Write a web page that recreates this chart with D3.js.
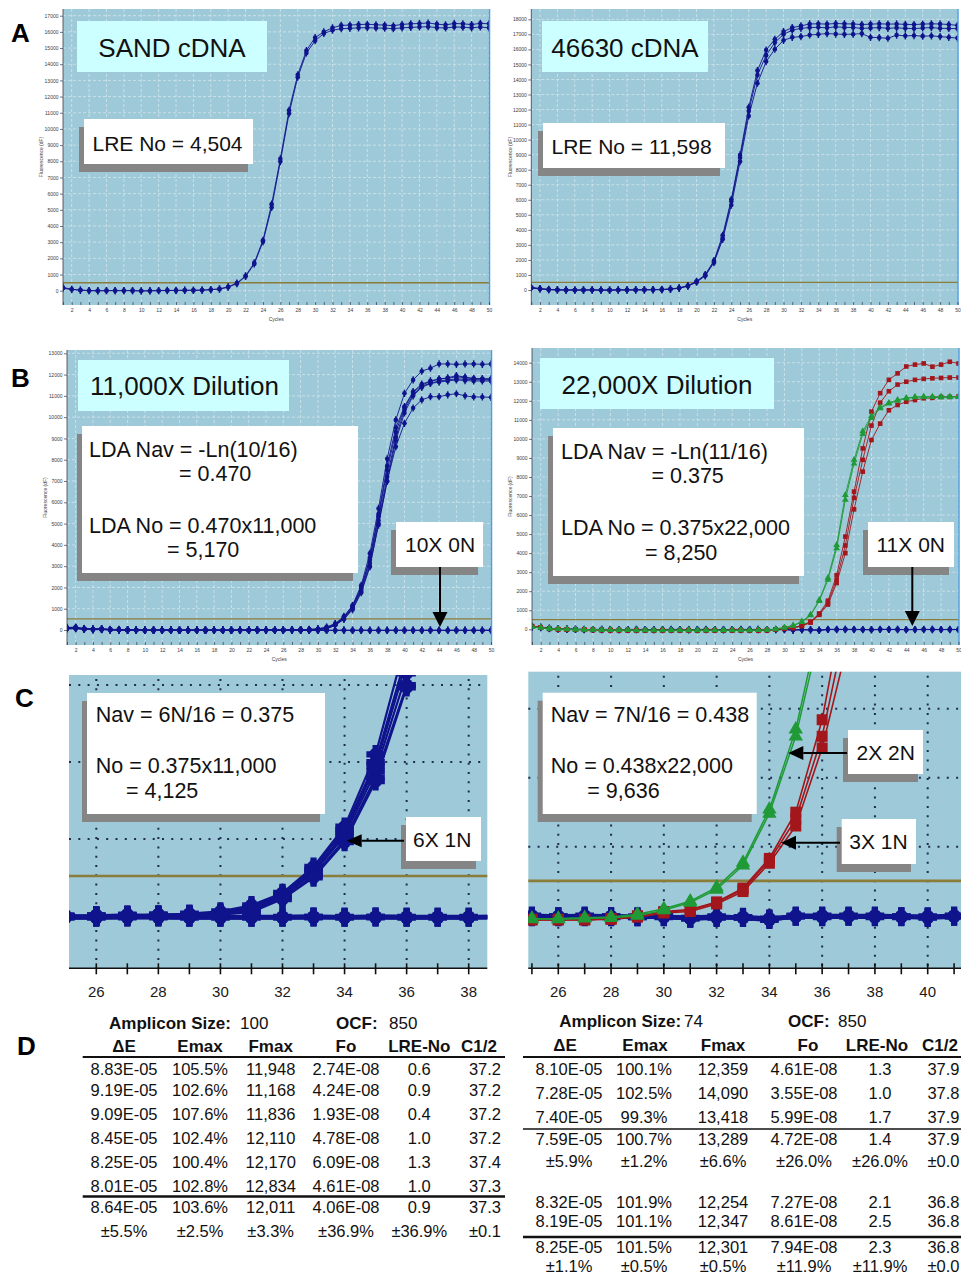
<!DOCTYPE html>
<html>
<head>
<meta charset="utf-8">
<title>qPCR amplification profiles with LRE and LDA quantification</title>
<script src="https://cdn.jsdelivr.net/npm/d3@7"></script>
<style>
  html, body { margin: 0; padding: 0; background: #ffffff; }
  svg { display: block; }
</style>
</head>
<body>
<svg id="figure" width="961" height="1280"></svg>
<script>
// ---------------- data ----------------
const cycles = [1,2,3,4,5,6,7,8,9,10,11,12,13,14,15,16,17,18,19,20,21,22,23,24,25,
  26,27,28,29,30,31,32,33,34,35,36,37,38,39,40,41,42,43,44,45,46,47,48,49,50];

// Fluorescence axis tick values
const ticksSand = [0,1000,2000,3000,4000,5000,6000,7000,8000,9000,10000,11000,12000,13000,14000,15000,16000,17000];
const ticks46630 = [0,1000,2000,3000,4000,5000,6000,7000,8000,9000,10000,11000,12000,13000,14000,15000,16000,17000,18000];
const ticksDil11k = [0,1000,2000,3000,4000,5000,6000,7000,8000,9000,10000,11000,12000,13000];
const ticksDil22k = [0,1000,2000,3000,4000,5000,6000,7000,8000,9000,10000,11000,12000,13000,14000];
const zoomTicksLeft = [26,27,28,29,30,31,32,33,34,35,36,37,38];
const zoomLabelsLeft = [26,28,30,32,34,36,38];
const zoomTicksRight = [25,26,27,28,29,30,31,32,33,34,35,36,37,38,39,40,41];
const zoomLabelsRight = [26,28,30,32,34,36,38,40];
const zoomGridValues = [1000,2000,3000];

// fluorescence thresholds
const thrSand = 490, thr46630 = 510, thrDil11k = 520, thrDil22k = 505;

// SAND cDNA replicates
const sandRep1 = [200,90,40,10,0,0,10,0,10,-20, 0,10,20,10,30,20,40,60,110,240,
  470,920,1720,3120,5350,8150,11150,13350,14850,15650, 16000,16250,16400,16420,16450,16470,16440,16420,16380,16460,
  16500,16520,16550,16480,16430,16520,16500,16450,16530,16500];
const sandRep2 = [150,70,30,0,-10,10,0,10,0,-10, -10,0,10,20,20,30,30,70,100,220,
  430,880,1650,3020,5150,7980,10950,13200,14700,15450, 15900,16100,16200,16220,16250,16260,16240,16230,16200,16250,
  16280,16300,16320,16260,16240,16300,16290,16250,16300,16250];

// 46630 cDNA replicates
const g46630Rep1 = [180,100,40,20,10,0,10,0,0,-10, 0,10,10,20,30,40,70,140,290,580,
  1020,1950,3640,6030,8980,12150,14590,15960,16670,17180, 17450,17560,17690,17700,17680,17720,17700,17690,17650,17680,
  17700,17680,17690,17660,17650,17680,17700,17690,17650,17600];
const g46630Rep2 = [150,80,30,10,0,-10,0,10,-10,0, 10,0,20,10,20,30,60,130,270,550,
  980,1880,3450,5900,8800,11900,14300,15600,16450,17000, 17280,17400,17450,17470,17430,17500,17460,17450,17400,17420,
  17450,17400,17430,17400,17380,17420,17450,17400,17390,17380];
const g46630Rep3 = [120,70,20,0,-10,0,-10,0,0,-10, 0,10,0,10,20,20,50,120,250,520,
  940,1820,3370,5650,8540,11570,13750,15190,16010,16600, 16800,16850,16960,17000,17050,17020,17000,17010,17050,16800,
  16780,16740,16950,16900,16920,16880,16900,16850,16800,16750];

// 11,000X dilution: six positive wells (6X 1N)
const dil11kPos1 = [100,110,60,40,50,20,30,10,0,-10, 0,-10,0,-10,-20,-10,0,-10,-20,-10,
  0,-10,0,10,0,10,20,10,30,60, 140,300,640,1160,2100,3600,5710,8040,9870,11120,
  11750,12160,12300,12500,12500,12480,12500,12500,12480,12500];
const dil11kPos2 = [80,90,50,30,40,10,20,0,-10,-10, -10,0,-10,-20,-10,0,-10,-20,-10,0,
  -10,0,10,0,-10,0,10,20,20,40, 120,290,610,1120,2000,3400,5450,7700,9500,10500,
  11200,11550,11700,11800,11820,11900,11850,11800,11800,11800];
const dil11kPos3 = [90,100,40,30,30,20,10,0,0,-10, 0,-10,-10,-10,0,-10,-10,0,-20,-10,
  0,0,-10,10,0,0,10,10,20,30, 100,270,580,1080,1950,3300,5350,7500,9300,10450,
  11150,11500,11680,11780,11850,11950,11880,11820,11800,11780];
const dil11kPos4 = [70,80,40,20,30,10,10,-10,0,-20, -10,-10,0,-10,-10,0,-20,-10,-10,0,
  -10,10,0,0,10,0,0,20,10,30, 80,250,560,1040,1880,3150,5150,7200,9050,10350,
  11050,11450,11600,11700,11750,11800,11780,11760,11750,11750];
const dil11kPos5 = [60,70,30,20,20,0,10,0,-10,-10, -20,-10,-10,0,-10,-20,-10,-10,0,-10,
  0,-10,0,0,0,10,10,0,20,20, 60,230,520,990,1800,3000,4930,6980,8900,10200,
  11000,11400,11580,11650,11700,11750,11720,11700,11700,11700];
const dil11kPos6 = [50,60,30,10,20,0,0,-10,-10,-20, -10,-20,-10,-10,-20,-10,0,-10,-10,-10,
  -10,0,-10,0,0,0,0,10,0,20, 50,220,500,960,1750,2970,5000,7000,8610,9710,
  10430,10810,10960,10960,11050,11100,11000,10950,10950,10930];
// 11,000X dilution: negative wells (10X 0N)
const dil11kNeg1 = [120,130,70,50,60,30,20,10,0,-10, -10,-20,-10,-20,-20,-10,-20,-10,-20,-20,
  -10,-20,-10,-20,-20,-10,-20,-10,-10,-20, -10,-20,-20,-10,-20,-20,-10,-20,-10,-20,
  -20,-10,-20,-20,-10,-20,-20,-10,-20,-20];
const dil11kNeg2 = [100,120,60,40,50,20,10,0,-10,-20, -20,-10,-20,-20,-10,-20,-20,-10,-20,-10,
  -20,-10,-20,-10,-10,-20,-10,-20,-20,-10, -20,-10,-10,-20,-10,-20,-20,-10,-20,-10,
  -10,-20,-10,-10,-20,-10,-10,-20,-10,-10];
const dil11kNeg3 = [90,110,50,30,40,20,10,0,0,-10, -10,-10,-20,-10,-20,-20,-10,-20,-10,-20,
  -20,-20,-10,-20,-20,-20,-10,-10,-20,-20, -20,-20,-10,-20,-10,-10,-20,-20,-10,-20,
  -20,-20,-10,-20,-20,-10,-20,-20,-20,-10];

// 22,000X dilution: 2N wells (green)
const dil22kTwoN1 = [140,90,40,20,10,0,-10,-20,-30,-30, -40,-30,-40,-50,-40,-50,-40,-50,-40,-50,
  -40,-50,-50,-40,-50,-40,-30,-20,20,100, 210,410,770,1540,2700,4430,7050,8900,10400,11200,
  11650,11900,12050,12150,12200,12220,12200,12210,12220,12200];
const dil22kTwoN2 = [120,80,30,10,0,-10,-20,-20,-30,-40, -30,-40,-50,-40,-50,-40,-50,-40,-50,-40,
  -50,-40,-40,-50,-40,-50,-40,-30,0,80, 190,380,730,1480,2600,4250,6800,8700,10250,11100,
  11600,11850,12000,12120,12180,12200,12210,12190,12200,12210];
// 22,000X dilution: 1N wells (red)
const dil22kOneN1 = [170,100,40,10,0,-10,-20,-30,-40,-40, -50,-40,-50,-60,-50,-60,-50,-60,-50,-60,
  -50,-60,-60,-50,-60,-60,-50,-50,0,60, 90,200,400,830,1500,2840,4870,7230,9500,11430,
  12400,13100,13440,13800,13900,13960,13790,13900,14050,13960];
const dil22kOneN2 = [150,90,30,0,-10,-20,-20,-30,-40,-50, -40,-50,-60,-50,-60,-50,-60,-50,-60,-50,
  -60,-50,-50,-60,-50,-60,-60,-40,-10,50, 80,190,380,800,1400,2600,4400,6900,8900,10700,
  11900,12500,12850,13000,13100,13150,13180,13200,13220,13220];
const dil22kOneN3 = [130,80,20,0,-20,-20,-30,-40,-40,-50, -50,-60,-50,-60,-60,-50,-60,-60,-50,-60,
  -50,-60,-60,-50,-60,-50,-60,-50,-20,40, 60,170,350,760,1300,2430,4000,6300,8280,9940,
  10800,11500,11780,11950,12040,12130,12150,12200,12200,12220];
// 22,000X dilution: negative wells (11X 0N, blue)
const dil22kNeg1 = [160,120,60,30,20,10,0,-10,0,-10, -20,-10,0,-10,-20,-10,0,-10,-20,-10,
  0,-10,-20,-10,0,-10,0,-10,-20,-10, -40,-20,-30,-60,0,0,-10,-20,-10,-20,
  0,-10,-20,-10,-20,0,-10,-20,0,-10];
const dil22kNeg2 = [130,100,50,20,10,0,-10,-10,-20,-10, -10,-20,-10,-20,-10,-20,-10,-20,-10,-20,
  -10,-20,-10,-20,-10,-20,-10,-20,-10,-20, -30,-10,-30,-50,-10,-10,0,-10,-20,-10,
  -10,0,-10,-20,-10,-10,-20,-10,-10,-20];
const dil22kNeg3 = [110,90,40,10,0,-10,-20,-10,-10,-20, -20,-10,-20,-10,-20,-10,-20,-10,-20,-10,
  -20,-10,-20,-10,-20,-10,-20,-10,-20,-10, -40,-30,-20,-40,-10,-20,-10,0,-10,-30,
  -10,-10,0,-20,-10,-20,0,-10,-20,-10];

// Table D
const tableColumns = ['ΔE', 'Emax', 'Fmax', 'Fo', 'LRE-No', 'C1/2'];
const sandRows = [
  ['8.83E-05','105.5%','11,948','2.74E-08','0.6','37.2'],
  ['9.19E-05','102.6%','11,168','4.24E-08','0.9','37.2'],
  ['9.09E-05','107.6%','11,836','1.93E-08','0.4','37.2'],
  ['8.45E-05','102.4%','12,110','4.78E-08','1.0','37.2'],
  ['8.25E-05','100.4%','12,170','6.09E-08','1.3','37.4'],
  ['8.01E-05','102.8%','12,834','4.61E-08','1.0','37.3']];
const sandMean = ['8.64E-05','103.6%','12,011','4.06E-08','0.9','37.3'];
const sandCV = ['±5.5%','±2.5%','±3.3%','±36.9%','±36.9%','±0.1'];
const oneNRows = [
  ['8.10E-05','100.1%','12,359','4.61E-08','1.3','37.9'],
  ['7.28E-05','102.5%','14,090','3.55E-08','1.0','37.8'],
  ['7.40E-05','99.3%','13,418','5.99E-08','1.7','37.9']];
const oneNMean = ['7.59E-05','100.7%','13,289','4.72E-08','1.4','37.9'];
const oneNCV = ['±5.9%','±1.2%','±6.6%','±26.0%','±26.0%','±0.0'];
const twoNRows = [
  ['8.32E-05','101.9%','12,254','7.27E-08','2.1','36.8'],
  ['8.19E-05','101.1%','12,347','8.61E-08','2.5','36.8']];
const twoNMean = ['8.25E-05','101.5%','12,301','7.94E-08','2.3','36.8'];
const twoNCV = ['±1.1%','±0.5%','±0.5%','±11.9%','±11.9%','±0.0'];

// ---------------- drawing ----------------
const FONT = '"Liberation Sans", Arial, Helvetica, sans-serif';
const BG = '#9dc9d8';
const NAVY = '#10148c';
const RED = '#a3161c';
const GREEN = '#1f9a36';
const OLIVE = '#8a7d3a';
const GRID = '#d4e6ec';
const DOT = '#1e2d4e';

const svg = d3.select('#figure').attr('font-family', FONT);
let clipCount = 0;

function clipRect(x0, y0, x1, y1) {
  const id = 'plotclip' + (clipCount++);
  svg.append('clipPath').attr('id', id).append('rect')
    .attr('x', x0).attr('y', y0).attr('width', x1 - x0).attr('height', y1 - y0);
  return `url(#${id})`;
}

function drawMarkers(g, values, x, y, shape, color, big) {
  const pts = values.map((v, i) => [x(cycles[i]), y(v)]);
  if (shape === 'circle') {
    if (big) {
      const cross = d3.symbol(d3.symbolCross, 190)();
      g.append('g').selectAll('path').data(pts).join('path')
        .attr('d', cross).attr('transform', d => `translate(${d[0]},${d[1]})`).attr('fill', color);
      g.append('g').selectAll('circle').data(pts).join('circle')
        .attr('cx', d => d[0]).attr('cy', d => d[1]).attr('r', 6.5).attr('fill', color);
    } else {
      g.append('g').selectAll('line').data(pts).join('line')
        .attr('x1', d => d[0]).attr('x2', d => d[0]).attr('y1', d => d[1] - 3.6).attr('y2', d => d[1] + 3.6)
        .attr('stroke', color).attr('stroke-width', 1.4);
      g.append('g').selectAll('circle').data(pts).join('circle')
        .attr('cx', d => d[0]).attr('cy', d => d[1]).attr('r', 2.3).attr('fill', color);
    }
  } else if (shape === 'square') {
    const s = big ? 11 : 4.6;
    g.append('g').selectAll('rect').data(pts).join('rect')
      .attr('x', d => d[0] - s / 2).attr('y', d => d[1] - s / 2).attr('width', s).attr('height', s)
      .attr('fill', color);
  } else {
    const tri = d3.symbol(d3.symbolTriangle, big ? 90 : 20)();
    g.append('g').selectAll('path').data(pts).join('path')
      .attr('d', tri).attr('transform', d => `translate(${d[0]},${d[1]})`).attr('fill', color);
  }
}

// Full 50-cycle amplification plot
function ampPanel(o) {
  const g = svg.append('g');
  const x = d3.scaleLinear().domain([1, 50]).range([o.left, o.x50]);
  const yMax = o.yTicks[o.yTicks.length - 1];
  const y = d3.scaleLinear().domain([0, yMax]).range([o.yZero, o.yTopTick]);
  const evens = cycles.filter(c => c % 2 === 0);

  g.append('rect').attr('x', o.left).attr('y', o.top)
    .attr('width', o.right - o.left).attr('height', o.bottom - o.top).attr('fill', BG);

  g.append('g').selectAll('line').data(o.yTicks).join('line')
    .attr('x1', o.left).attr('x2', o.right).attr('y1', d => y(d)).attr('y2', d => y(d))
    .attr('stroke', GRID).attr('stroke-width', 0.8).attr('stroke-dasharray', '3,2');
  g.append('g').selectAll('line').data(evens).join('line')
    .attr('x1', d => x(d)).attr('x2', d => x(d)).attr('y1', o.top).attr('y2', o.bottom)
    .attr('stroke', GRID).attr('stroke-width', 0.8).attr('stroke-dasharray', '3,2');

  g.append('line').attr('x1', o.left).attr('x2', o.right)
    .attr('y1', y(o.thr)).attr('y2', y(o.thr)).attr('stroke', OLIVE).attr('stroke-width', 1.3);

  const plot = g.append('g').attr('clip-path', clipRect(o.left, o.top, o.right, o.bottom));
  const line = d3.line().x((d, i) => x(cycles[i])).y(d => y(d));
  o.series.forEach(s => {
    s.reps.forEach(rep => {
      plot.append('path').datum(rep).attr('d', line).attr('fill', 'none')
        .attr('stroke', s.color).attr('stroke-width', 0.9);
    });
    s.reps.forEach(rep => drawMarkers(plot, rep, x, y, s.shape, s.color, false));
  });

  // right border
  g.append('line').attr('x1', o.right).attr('x2', o.right).attr('y1', o.top).attr('y2', o.bottom)
    .attr('stroke', '#4f9fe0').attr('stroke-width', 1.5);

  // fluorescence axis
  const ay = g.append('g').attr('transform', `translate(${o.left},0)`)
    .call(d3.axisLeft(y).tickValues(o.yTicks).tickSize(3).tickPadding(1.5).tickFormat(d3.format('d')));
  ay.select('.domain').remove();
  ay.selectAll('line').attr('stroke', '#3a3a4a').attr('stroke-width', 0.7);
  ay.selectAll('text').attr('font-size', 5).attr('fill', '#3a3a3a').attr('font-family', FONT);
  g.append('line').attr('x1', o.left).attr('x2', o.left).attr('y1', o.top).attr('y2', o.bottom)
    .attr('stroke', '#3a3a4a').attr('stroke-width', 0.8);

  // cycle axis
  const ax = g.append('g').attr('transform', `translate(0,${o.bottom})`)
    .call(d3.axisBottom(x).tickValues(cycles).tickSize(-3).tickPadding(3)
      .tickFormat(d => d % 2 === 0 ? d : ''));
  ax.select('.domain').remove();
  ax.selectAll('line').attr('stroke', '#3a3a4a').attr('stroke-width', 0.7);
  ax.selectAll('text').attr('font-size', 5).attr('fill', '#3a3a3a').attr('font-family', FONT);

  g.append('text').attr('x', (o.left + o.right) / 2).attr('y', o.bottom + 16)
    .attr('text-anchor', 'middle').attr('font-size', 5).attr('fill', '#3a3a3a').text('Cycles');
  g.append('text').attr('transform', `translate(${o.yLabelX},${(o.top + o.bottom) / 2}) rotate(-90)`)
    .attr('text-anchor', 'middle').attr('font-size', 5).attr('fill', '#3a3a3a').text('Fluorescence (dF)');
}

// Close-up of the threshold region
function zoomPanel(o) {
  const g = svg.append('g');
  const x = d3.scaleLinear().domain([o.xa, o.xb]).range([o.pxa, o.pxb]);
  const y = d3.scaleLinear().domain([0, 3000]).range([o.yZero, o.y3000]);

  g.append('rect').attr('x', o.left).attr('y', o.top)
    .attr('width', o.right - o.left).attr('height', o.axisY - o.top).attr('fill', BG);

  g.append('g').selectAll('line').data(zoomGridValues).join('line')
    .attr('x1', o.left).attr('x2', o.right).attr('y1', d => y(d)).attr('y2', d => y(d))
    .attr('stroke', DOT).attr('stroke-width', 2).attr('stroke-dasharray', '2,7.3');
  g.append('g').selectAll('line').data(o.labels).join('line')
    .attr('x1', d => x(d)).attr('x2', d => x(d)).attr('y1', o.top + 4).attr('y2', o.axisY)
    .attr('stroke', DOT).attr('stroke-width', 2).attr('stroke-dasharray', '2,7.3');

  g.append('line').attr('x1', o.left).attr('x2', o.right)
    .attr('y1', y(o.thr)).attr('y2', y(o.thr)).attr('stroke', OLIVE).attr('stroke-width', 2.6);

  const plot = g.append('g').attr('clip-path', clipRect(o.left, o.top, o.right, o.axisY - 1));
  const line = d3.line().x((d, i) => x(cycles[i])).y(d => y(d));
  o.series.forEach(s => {
    s.reps.forEach(rep => {
      plot.append('path').datum(rep).attr('d', line).attr('fill', 'none')
        .attr('stroke', s.color).attr('stroke-width', s.width);
    });
    s.reps.forEach(rep => drawMarkers(plot, rep, x, y, s.shape, s.color, true));
  });

  // cycle axis with crossing ticks
  g.append('line').attr('x1', o.left).attr('x2', o.right).attr('y1', o.axisY).attr('y2', o.axisY)
    .attr('stroke', '#111').attr('stroke-width', 1.6);
  g.append('g').selectAll('line').data(o.ticks).join('line')
    .attr('x1', d => x(d)).attr('x2', d => x(d)).attr('y1', o.axisY - 5).attr('y2', o.axisY + 6)
    .attr('stroke', '#111').attr('stroke-width', 1.6);
  g.append('g').selectAll('text').data(o.labels).join('text')
    .attr('x', d => x(d)).attr('y', o.axisY + 29).attr('text-anchor', 'middle')
    .attr('font-size', 15).attr('fill', '#1a1a1a').text(d => d);
}

function callout(box, fill, shadow, lines, size) {
  if (shadow) {
    svg.append('rect').attr('x', box[0] - 5).attr('y', box[1] + 8)
      .attr('width', box[2] - box[0]).attr('height', box[3] - box[1]).attr('fill', '#858585');
  }
  svg.append('rect').attr('x', box[0]).attr('y', box[1])
    .attr('width', box[2] - box[0]).attr('height', box[3] - box[1]).attr('fill', fill);
  lines.forEach(l => {
    svg.append('text').attr('x', l[1]).attr('y', l[2]).attr('font-size', size)
      .attr('text-anchor', l[3] || 'start').attr('fill', '#111').text(l[0]);
  });
}

function arrow(x1, y1, x2, y2, len, half) {
  const a = Math.atan2(y2 - y1, x2 - x1);
  const bx = x2 - len * Math.cos(a), by = y2 - len * Math.sin(a);
  svg.append('line').attr('x1', x1).attr('y1', y1).attr('x2', bx).attr('y2', by)
    .attr('stroke', '#000').attr('stroke-width', 2);
  const px = -Math.sin(a) * half, py = Math.cos(a) * half;
  svg.append('path').attr('d', `M${x2},${y2}L${bx + px},${by + py}L${bx - px},${by - py}Z`).attr('fill', '#000');
}

// ---- A: SAND and 46630 cDNA ----
ampPanel({ left: 63, x50: 489, right: 489.5, top: 9, bottom: 305, yZero: 290.7, yTopTick: 15.7,
  yTicks: ticksSand, thr: thrSand, yLabelX: 43,
  series: [{ reps: [sandRep1, sandRep2], color: NAVY, shape: 'circle' }] });
ampPanel({ left: 531.3, x50: 957.5, right: 958, top: 9, bottom: 305, yZero: 290, yTopTick: 19.3,
  yTicks: ticks46630, thr: thr46630, yLabelX: 511.7,
  series: [{ reps: [g46630Rep1, g46630Rep2, g46630Rep3], color: NAVY, shape: 'circle' }] });

// ---- B: limiting dilutions ----
const dil11kSeries = [
  { reps: [dil11kNeg1, dil11kNeg2, dil11kNeg3], color: NAVY, shape: 'circle', width: 4.5 },
  { reps: [dil11kPos1, dil11kPos2, dil11kPos3, dil11kPos4, dil11kPos5, dil11kPos6], color: NAVY, shape: 'circle', width: 2.2 }];
const dil22kSeries = [
  { reps: [dil22kNeg1, dil22kNeg2, dil22kNeg3], color: NAVY, shape: 'circle', width: 4.5 },
  { reps: [dil22kOneN1, dil22kOneN2, dil22kOneN3], color: RED, shape: 'square', width: 1.6 },
  { reps: [dil22kTwoN1, dil22kTwoN2], color: GREEN, shape: 'triangle', width: 1.5 }];

ampPanel({ left: 67, x50: 491, right: 491.5, top: 350, bottom: 645, yZero: 630, yTopTick: 353.3,
  yTicks: ticksDil11k, thr: thrDil11k, yLabelX: 46.7, series: dil11kSeries });
ampPanel({ left: 532, x50: 958.5, right: 959, top: 348, bottom: 645, yZero: 629.3, yTopTick: 362.7,
  yTicks: ticksDil22k, thr: thrDil22k, yLabelX: 512, series: dil22kSeries });

// ---- C: close-ups around the threshold ----
zoomPanel({ left: 69, right: 487.3, top: 675, axisY: 968.3, xa: 26, xb: 38, pxa: 96.3, pxb: 468.7,
  yZero: 916, y3000: 685, thr: thrDil11k, ticks: zoomTicksLeft, labels: zoomLabelsLeft, series: dil11kSeries });
zoomPanel({ left: 528.3, right: 961, top: 671.7, axisY: 968.3, xa: 26, xb: 40, pxa: 558.3, pxb: 927.7,
  yZero: 915.7, y3000: 708.7, thr: thrDil22k, ticks: zoomTicksRight, labels: zoomLabelsRight, series: dil22kSeries });

// ---- annotations ----
const CYAN = '#ccffff';
callout([77, 21, 267, 72], CYAN, false, [['SAND cDNA', 172, 57, 'middle']], 26);
callout([84, 119, 253, 164], '#fff', true, [['LRE No = 4,504', 92.5, 150.5]], 21);
callout([542, 21, 708, 72], CYAN, false, [['46630 cDNA', 625, 57.3, 'middle']], 26);
callout([543, 123, 725, 168], '#fff', true, [['LRE No = 11,598', 551.5, 153.5]], 21);

callout([78, 360, 289, 411], CYAN, false, [['11,000X Dilution', 184.5, 395, 'middle']], 26);
callout([82, 426, 358, 573], '#fff', true, [
  ['LDA Nav = -Ln(10/16)', 89, 457], ['= 0.470', 179, 481],
  ['LDA No = 0.470x11,000', 89, 533], ['= 5,170', 167, 557]], 21.5);
callout([396, 522, 483, 567], '#fff', true, [['10X 0N', 405, 552]], 21);
arrow(440, 567, 440, 627, 15, 7.5);

callout([540, 358, 774, 409], CYAN, false, [['22,000X Dilution', 657, 393.5, 'middle']], 26);
callout([553, 428, 804, 576], '#fff', true, [
  ['LDA Nav = -Ln(11/16)', 561, 458.5], ['= 0.375', 651.5, 483],
  ['LDA No = 0.375x22,000', 561, 535], ['= 8,250', 645, 560]], 21.5);
callout([868, 522, 954, 567], '#fff', true, [['11X 0N', 876.5, 552]], 21);
arrow(912.3, 567, 912.3, 626, 15, 7.5);

callout([87, 693, 325, 814], '#fff', true, [
  ['Nav = 6N/16 = 0.375', 95.7, 722], ['No = 0.375x11,000', 95.7, 773], ['= 4,125', 126, 798]], 21.5);
callout([406, 817, 481, 861], '#fff', true, [['6X 1N', 413, 847]], 21);
arrow(404, 840.7, 346.7, 840.7, 15, 6.5);

callout([542.7, 692.7, 756.7, 814], '#fff', true, [
  ['Nav = 7N/16 = 0.438', 550.7, 722], ['No = 0.438x22,000', 550.7, 772.7], ['= 9,636', 587.3, 798]], 21.5);
callout([848, 730, 923, 774], '#fff', true, [['2X 2N', 856.5, 760]], 21);
arrow(847, 753, 788.3, 753, 15, 7);
callout([841.7, 819, 916, 864], '#fff', true, [['3X 1N', 849.3, 849]], 21);
arrow(840, 842.7, 781, 842.7, 15, 7);

// ---- panel letters ----
[['A', 11, 42], ['B', 11, 387], ['C', 15, 707], ['D', 17, 1055]].forEach(p => {
  svg.append('text').attr('x', p[1]).attr('y', p[2]).attr('font-size', 26)
    .attr('font-weight', 'bold').attr('fill', '#000').text(p[0]);
});

// ---- D: kinetic parameter tables ----
function table(o) {
  const g = svg.append('g').attr('fill', '#111');
  const head = g.append('text').attr('y', o.titleY).attr('font-size', 17);
  head.append('tspan').attr('x', o.ampX).attr('font-weight', 'bold').text('Amplicon Size:');
  head.append('tspan').attr('x', o.ampValX).text(o.amp);
  head.append('tspan').attr('x', o.ocfX).attr('font-weight', 'bold').text('OCF:');
  head.append('tspan').attr('x', o.ocfValX).text(o.ocf);

  tableColumns.forEach((c, i) => {
    const last = i === tableColumns.length - 1;
    g.append('text').attr('x', last ? o.lastHeadX : o.headCx[i]).attr('y', o.headY)
      .attr('text-anchor', last ? 'end' : 'middle').attr('font-size', 17)
      .attr('font-weight', 'bold').text(c);
  });
  o.rows.forEach((r, k) => {
    r.forEach((v, i) => {
      const last = i === r.length - 1;
      g.append('text').attr('x', last ? o.lastX : o.cx[i]).attr('y', o.rowY[k])
        .attr('text-anchor', last ? 'end' : 'middle').attr('font-size', 16.5).text(v);
    });
  });
  o.rules.forEach(r => {
    g.append('line').attr('x1', o.ruleX[0]).attr('x2', o.ruleX[1]).attr('y1', r[0]).attr('y2', r[0])
      .attr('stroke', '#111').attr('stroke-width', r[1]);
  });
}

table({ titleY: 1029, ampX: 109, ampValX: 240, ocfX: 336, ocfValX: 389, amp: '100', ocf: '850',
  headY: 1052, headCx: [124, 200, 270.7, 346, 419.3], lastHeadX: 497,
  cx: [124, 200, 270.7, 346, 419.3], lastX: 501,
  rows: [...sandRows, sandMean, sandCV],
  rowY: [1075, 1096, 1120, 1144, 1168, 1192, 1213, 1237],
  ruleX: [82.7, 505], rules: [[1057, 2], [1196.5, 2.5]] });

table({ titleY: 1027, ampX: 559.3, ampValX: 684, ocfX: 788, ocfValX: 838, amp: '74', ocf: '850',
  headY: 1051, headCx: [565, 645, 723, 808, 877], lastHeadX: 958,
  cx: [569, 644, 723, 804, 880], lastX: 959.5,
  rows: [...oneNRows, oneNMean, oneNCV, ...twoNRows, twoNMean, twoNCV],
  rowY: [1075, 1099, 1123, 1145, 1167, 1208, 1227, 1253, 1272],
  ruleX: [523, 961], rules: [[1057, 2], [1129, 1.5], [1237, 2.5]] });
</script>
</body>
</html>
